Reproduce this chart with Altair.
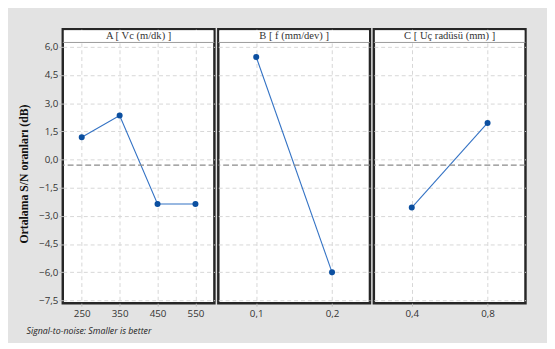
import altair as alt
import pandas as pd

# ---- data ----
panel_titles = ["A [ Vc (m/dk) ]", "B [ f (mm/dev) ]", "C [ Uç radüsü (mm) ]"]
levels_A = ["250", "350", "450", "550"]
levels_B = ["0,1", "0,2"]
levels_C = ["0,4", "0,8"]
sn_A = [1.19, 2.35, -2.37, -2.37]
sn_B = [5.46, -6.01]
sn_C = [-2.56, 1.95]
mean_sn = -0.30
y_ticks = [-7.5, -6.0, -4.5, -3.0, -1.5, 0.0, 1.5, 3.0, 4.5, 6.0]
y_title = "Ortalama S/N oranları (dB)"
footer = "Signal-to-noise: Smaller is better"

levels = [levels_A, levels_B, levels_C]
values = [sn_A, sn_B, sn_C]

W, H = 155, 280
HEAD = 13.5
Y_DOMAIN = [-7.65, 6.94]
LABEL_FONT = "Open Sans"
SERIF = "Liberation Serif"
LINE_COLOR = "#3372c4"
POINT_COLOR = "#0b4fa0"


def panel(i):
    df = pd.DataFrame({"level": levels[i], "sn": values[i]})
    one = pd.DataFrame({"sn": [mean_sn]})
    first = i == 0
    x = alt.X(
        "level:O",
        scale=alt.Scale(type="point", padding=0.5, domain=levels[i]),
        axis=alt.Axis(
            title=None, labelAngle=0, grid=True, gridDash=[4, 3], gridColor="#d6d6d6",
            tickSize=3, tickColor="#bbbbbb", domain=False, labelFont=LABEL_FONT,
            labelFontSize=10, labelColor="#333333", labelPadding=3,
        ),
    )
    if first:
        yaxis = alt.Axis(
            values=y_ticks, title=None, grid=True, gridDash=[4, 3], gridColor="#d6d6d6",
            tickSize=4, tickColor="#c0c0c0", domain=False, labelOverlap=False,
            labelFont=LABEL_FONT, labelFontSize=10, labelColor="#333333", labelPadding=1,
            format=".1f",
        )
    else:
        yaxis = alt.Axis(
            values=y_ticks, title=None, grid=True, gridDash=[4, 3], gridColor="#d6d6d6",
            ticks=False, labels=False, domain=False,
        )
    y = alt.Y("sn:Q", scale=alt.Scale(domain=Y_DOMAIN, nice=False, zero=False), axis=yaxis)

    base = alt.Chart(df).encode(x=x, y=y)
    line = base.mark_line(color=LINE_COLOR, strokeWidth=1.1)
    pts = base.mark_point(filled=True, color=POINT_COLOR, size=38, opacity=1)
    meanline = alt.Chart(one).mark_rule(color="#8a8a8a", strokeDash=[6, 3], strokeWidth=1.2).encode(y=y)
    head_bg = alt.Chart(one).mark_rect(color="white").encode(
        x=alt.value(1), x2=alt.value(W - 1), y=alt.value(1), y2=alt.value(HEAD)
    )
    head_rule = alt.Chart(one).mark_rule(color="#9a9a9a", strokeWidth=1).encode(
        x=alt.value(0), x2=alt.value(W), y=alt.value(HEAD)
    )
    head_text = alt.Chart(one).mark_text(
        font=SERIF, fontSize=10.8, color="#333333", baseline="middle", align="center"
    ).encode(x=alt.value(W / 2), y=alt.value(7.2), text=alt.value(panel_titles[i]))
    layers = [line, meanline, pts, head_bg, head_rule, head_text]
    if first:
        ytitle = alt.Chart(one).mark_text(
            font=SERIF, fontSize=12, fontWeight="bold", color="#111111", angle=270,
            baseline="middle", align="center",
        ).encode(x=alt.value(-40), y=alt.value(148), text=alt.value(y_title))
        foot = alt.Chart(one).mark_text(
            font=LABEL_FONT, fontSize=9, fontStyle="italic", color="#222222",
            baseline="middle", align="left",
        ).encode(x=alt.value(-37), y=alt.value(309), text=alt.value(footer))
        layers += [ytitle, foot]
    return alt.layer(*layers).properties(width=W, height=H)


chart = (
    alt.hconcat(*[panel(i) for i in range(3)], spacing=0)
    .resolve_scale(x="independent", y="independent")
    .properties(padding={"left": 8, "top": 16, "right": 20, "bottom": 1}, background="#e3e3e3")
    .configure_view(stroke="#262626", strokeWidth=2.5, fill="white")
    .configure_axisY(labelOverlap=False)
)

chart.save(
    "out.html",
    embed_options={
        "renderer": "svg",
        "actions": False,
        "formatLocale": {"decimal": ",", "thousands": ".", "grouping": [3], "currency": ["", " TL"]},
    },
)
